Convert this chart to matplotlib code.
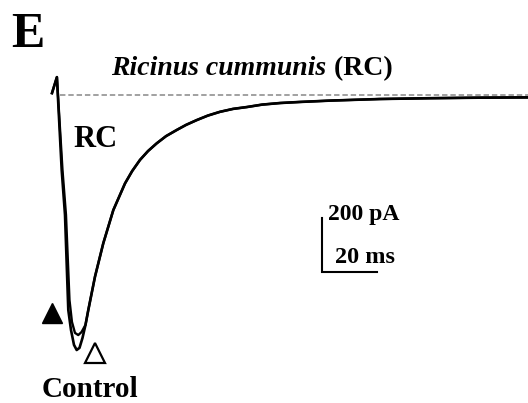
import matplotlib
matplotlib.use('Agg')
import numpy as np
import matplotlib.pyplot as plt

plt.rcParams['font.family'] = ['Liberation Serif', 'DejaVu Serif']

# time (ms) and current (pA)
# shared recovery part (both traces overlap after the peak)
tail_t = [12.18, 14.63, 17.66, 21.32, 25.6, 28.2, 31.08, 34.0, 37.18, 40.6,
          44.5, 47.9, 51.8, 55.9, 60.3, 65.1, 70.2, 75.7, 82.3, 89.6, 100.5,
          118.8, 137.1, 155.0, 172.6]
tail_i = [-805, -680, -555, -431, -331, -285, -243, -210, -181, -154,
          -131, -112, -94, -77, -63, -52, -45, -36, -30, -26, -21,
          -15, -12, -10, -9]

control_t = [-1.1, 0.7, 2.45, 3.66, 4.86, 5.85, 6.95, 7.93, 8.96, 10.05, 11.15] + tail_t
control_i = [7, 67, -281, -449, -805, -880, -936, -955, -947, -910, -861] + tail_i

rc_t = [-1.1, 0.7, 2.74, 4.02, 5.3, 6.2, 7.3, 8.5, 9.69, 11.15] + tail_t
rc_i = [7, 67, -281, -449, -768, -850, -891, -899, -888, -861] + tail_i

baseline_t = [1.8, 172.9]
baseline_i = [0, 0]

# scale bar
bar_t0, bar_i0 = 97.6, -662
bar_ms, bar_pa = 20, 200

# markers (time, current)
filled_mark = (-1.1, -816)
open_mark = (14.8, -968)

fig = plt.figure(figsize=(5.28, 4.03), dpi=100)
ax = fig.add_axes([0, 0, 1, 1])
ax.set_xlim(-20.1, 172.9)
ax.set_ylim(-1153.5, 355.8)
ax.axis('off')

ax.plot(baseline_t, baseline_i, color='#9a9a9a', lw=1.3, ls=(0, (3, 1.6)))
ax.plot(control_t, control_i, color='black', lw=1.9, solid_joinstyle='round')
ax.plot(rc_t, rc_i, color='black', lw=1.7, solid_joinstyle='round')

ax.plot([bar_t0, bar_t0, bar_t0 + bar_ms], [bar_i0 + bar_pa, bar_i0, bar_i0],
        color='black', lw=1.5, solid_joinstyle='miter')

ax.plot(*filled_mark, marker='^', ms=15, color='black', ls='none')
ax.plot(*open_mark, marker='^', ms=15, mfc='white', mec='black', mew=1.6, ls='none')

fig.text(0.022, 0.884, 'E', fontsize=36, fontweight='bold', va='baseline')
t1 = fig.text(0.211, 0.814, 'Ricinus cummunis', fontsize=20, fontweight='bold',
              style='italic', va='baseline')
ax.annotate(' (RC)', xy=(1, 0), xycoords=t1, fontsize=20, fontweight='bold',
            va='bottom')
fig.text(0.139, 0.636, 'RC', fontsize=22, fontweight='bold', va='baseline')
fig.text(0.079, 0.016, 'Control', fontsize=21, fontweight='bold', va='baseline')
fig.text(0.621, 0.454, '200 pA', fontsize=17, fontweight='bold', va='baseline')
fig.text(0.634, 0.347, '20 ms', fontsize=17.5, fontweight='bold', va='baseline')

fig.savefig('out.png', dpi=100)
